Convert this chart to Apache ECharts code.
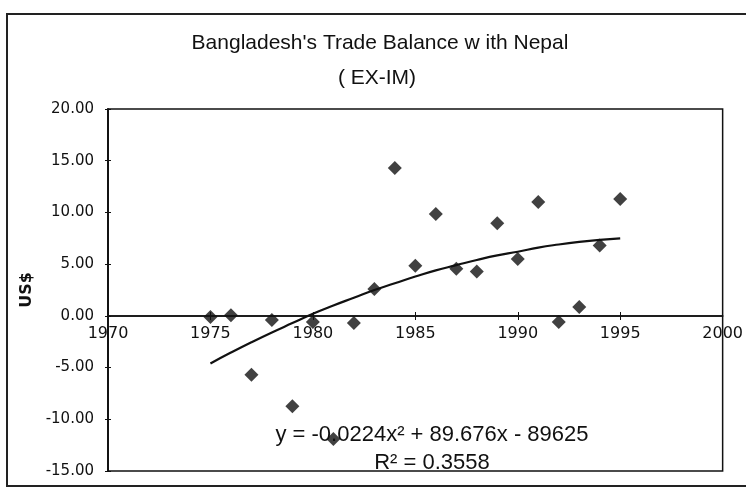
<!DOCTYPE html>
<html>
<head>
<meta charset="utf-8">
<script src="https://cdn.jsdelivr.net/npm/echarts@6/dist/echarts.min.js"></script>
<style>
  html, body { margin: 0; padding: 0; background: #fff; }
  #chart { width: 746px; height: 488px; }
</style>
</head>
<body>
<div id="chart"></div>
<script>
// Yearly trade balance (exports minus imports), US$
const years = [1975, 1976, 1977, 1978, 1979, 1980, 1981, 1982, 1983, 1984, 1985,
               1986, 1987, 1988, 1989, 1990, 1991, 1992, 1993, 1994, 1995];
const balance = [-0.1, 0.05, -5.7, -0.4, -8.75, -0.6, -11.9, -0.7, 2.6, 14.3, 4.85,
                 9.85, 4.55, 4.3, 8.95, 5.5, 11.0, -0.6, 0.85, 6.8, 11.3];
// Polynomial trend line values for the same years
const trend = [-4.6, -3.55, -2.55, -1.6, -0.7, 0.2, 1.0, 1.75, 2.5, 3.15, 3.8,
               4.4, 4.9, 5.4, 5.85, 6.2, 6.6, 6.9, 7.15, 7.35, 7.5];

const titleLines = ["Bangladesh's Trade Balance w ith Nepal", "( EX-IM)"];
const equationText = 'y = -0.0224x\u00b2 + 89.676x - 89625';
const r2Text = 'R\u00b2 = 0.3558';
const yAxisName = 'US$';

const scatterData = years.map((y, i) => [y, balance[i]]);
const trendData = years.map((y, i) => [y, trend[i]]);

const axisFont = '"DejaVu Sans", Verdana, sans-serif';
const textFont = '"Liberation Sans", Arial, sans-serif';
const ink = '#111';

// The year axis is drawn where y = 0, i.e. this many px above the plot bottom
const zeroOffset = -155;

const xBase = {
  type: 'value', min: 1970, max: 2000, interval: 5, gridIndex: 0,
  position: 'bottom', offset: zeroOffset,
  axisLine: { onZero: false, lineStyle: { color: ink, width: 1.5 } },
  splitLine: { show: false }
};
const yBase = {
  type: 'value', min: -15, max: 20, interval: 5, gridIndex: 0,
  position: 'left',
  axisLine: { show: true, onZero: false, lineStyle: { color: ink, width: 1.5 } },
  splitLine: { show: false }
};

const chart = echarts.init(document.getElementById('chart'), null, { renderer: 'canvas' });
chart.setOption({
  backgroundColor: '#ffffff',
  animation: false,
  grid: {
    left: 108, right: 22, top: 109, bottom: 17,
    show: true, borderColor: ink, borderWidth: 1.5, backgroundColor: 'transparent'
  },
  xAxis: [
    Object.assign({}, xBase, {
      axisTick: { show: true, inside: false, length: 4, lineStyle: { color: ink } },
      axisLabel: { color: ink, fontFamily: axisFont, fontSize: 16, margin: 10,
                   formatter: v => String(v) }
    }),
    Object.assign({}, xBase, {
      axisTick: { show: true, inside: true, length: 4, lineStyle: { color: ink } },
      axisLabel: { show: false }
    })
  ],
  yAxis: [
    Object.assign({}, yBase, {
      name: yAxisName, nameLocation: 'middle', nameGap: 73, nameRotate: 90,
      nameTextStyle: { fontFamily: axisFont, fontSize: 16, fontWeight: 'bold', color: ink },
      axisTick: { show: true, inside: false, length: 3, lineStyle: { color: ink } },
      axisLabel: { color: ink, fontFamily: axisFont, fontSize: 15, margin: 14,
                   formatter: v => v.toFixed(2) }
    }),
    Object.assign({}, yBase, {
      axisTick: { show: true, inside: true, length: 3, lineStyle: { color: ink } },
      axisLabel: { show: false }
    })
  ],
  series: [
    {
      name: 'Trend', type: 'line', data: trendData, smooth: true, showSymbol: false,
      lineStyle: { color: ink, width: 2.2 }, z: 2
    },
    {
      name: 'Balance', type: 'scatter', data: scatterData,
      symbol: 'diamond', symbolSize: 14,
      itemStyle: { color: ink }, z: 3
    }
  ],
  graphic: [
    { type: 'rect', shape: { x: 7, y: 14, width: 760, height: 472 },
      style: { fill: 'none', stroke: '#222', lineWidth: 2 }, silent: true },
    { type: 'text', x: 380, y: 43, style: { text: titleLines[0], align: 'center',
      verticalAlign: 'middle', font: '21px ' + textFont, fill: ink } },
    { type: 'text', x: 377, y: 78, style: { text: titleLines[1], align: 'center',
      verticalAlign: 'middle', font: '21px ' + textFont, fill: ink } },
    { type: 'text', x: 432, y: 435, style: { text: equationText, align: 'center',
      verticalAlign: 'middle', font: '22px ' + textFont, fill: ink } },
    { type: 'text', x: 432, y: 463, style: { text: r2Text, align: 'center',
      verticalAlign: 'middle', font: '22px ' + textFont, fill: ink } }
  ]
});
</script>
</body>
</html>
